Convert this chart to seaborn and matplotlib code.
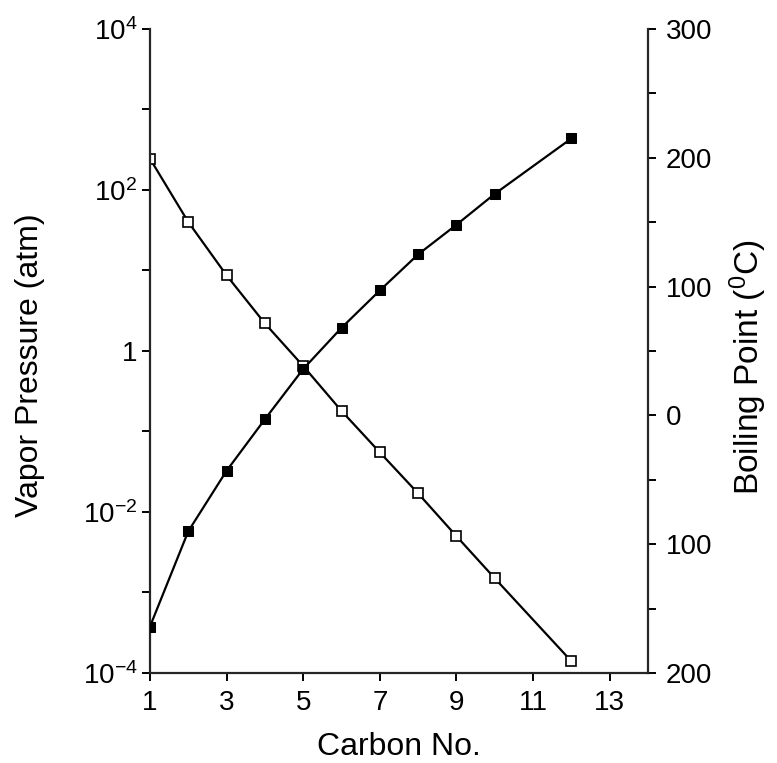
import numpy as np
import pandas as pd
import matplotlib
matplotlib.use("Agg")
import matplotlib.pyplot as plt
import matplotlib.ticker as mticker
import seaborn as sns

carbon_no = [1, 2, 3, 4, 5, 6, 7, 8, 9, 10, 12]
vapor_pressure = [245, 40, 8.7, 2.2, 0.65, 0.18, 0.055, 0.017, 0.005, 0.0015, 0.00014]
boiling_point = [-164, -90, -43, -3, 36, 68, 97, 125, 148, 172, 215]

df = pd.DataFrame({"carbon": carbon_no, "vp": vapor_pressure, "bp": boiling_point})

sns.set_style("ticks")
plt.rcParams["font.family"] = ["Liberation Sans", "DejaVu Sans"]
plt.rcParams["mathtext.fontset"] = "custom"
plt.rcParams["mathtext.rm"] = "Liberation Sans"
plt.rcParams["mathtext.it"] = "Liberation Sans"
plt.rcParams["text.color"] = "black"
plt.rcParams["axes.labelcolor"] = "black"

fig = plt.figure(figsize=(7.77, 7.63), dpi=100)
ax = fig.add_axes([0.193, 0.118, 0.641, 0.844])
ax2 = ax.twinx()

sns.lineplot(data=df, x="carbon", y="vp", ax=ax, color="black", lw=1.6,
             marker="s", markersize=6.5, markerfacecolor="white",
             markeredgecolor="black", markeredgewidth=1.2)
sns.lineplot(data=df, x="carbon", y="bp", ax=ax2, color="black", lw=1.6,
             marker="s", markersize=6.5, markerfacecolor="black",
             markeredgecolor="black")

ax.set_yscale("log")
ax.set_ylim(1e-4, 1e4)
ax.set_xlim(1, 14)
ax2.set_ylim(-200, 300)

ax.xaxis.set_major_locator(mticker.FixedLocator([1, 3, 5, 7, 9, 11, 13]))
ax.yaxis.set_major_locator(mticker.FixedLocator([1e-4, 1e-2, 1, 1e2, 1e4]))
ax.yaxis.set_minor_locator(mticker.FixedLocator([1e-3, 1e-1, 1e1, 1e3]))
ax.yaxis.set_minor_formatter(mticker.NullFormatter())
ax.set_yticklabels([r"$10^{-4}$", r"$10^{-2}$", "1", r"$10^{2}$", r"$10^{4}$"])

ax2.yaxis.set_major_locator(mticker.MultipleLocator(100))
ax2.yaxis.set_minor_locator(mticker.MultipleLocator(50))
ax2.yaxis.set_major_formatter(mticker.FuncFormatter(lambda v, p: f"{abs(int(v))}"))

for a in (ax, ax2):
    a.spines["top"].set_visible(False)
    for s in a.spines.values():
        s.set_linewidth(1.6)
    a.tick_params(which="both", direction="out", length=6, width=1.4,
                  labelsize=20, colors="black")
ax.spines["right"].set_visible(False)
ax2.spines["left"].set_visible(False)
ax2.spines["bottom"].set_visible(False)
ax.tick_params(axis="y", which="both", pad=3)
ax.tick_params(axis="x", which="both", pad=6)
ax2.tick_params(axis="y", which="both", pad=7)

ax.set_xlabel("Carbon No.", fontsize=23, labelpad=12)
ax.set_ylabel("Vapor Pressure (atm)", fontsize=23, labelpad=27)
ax2.set_ylabel(r"Boiling Point ($^{0}$C)", fontsize=24, labelpad=11)
ax.yaxis.label.set_y(0.478)
ax2.yaxis.label.set_y(0.474)

fig.savefig("out.png", dpi=100)
